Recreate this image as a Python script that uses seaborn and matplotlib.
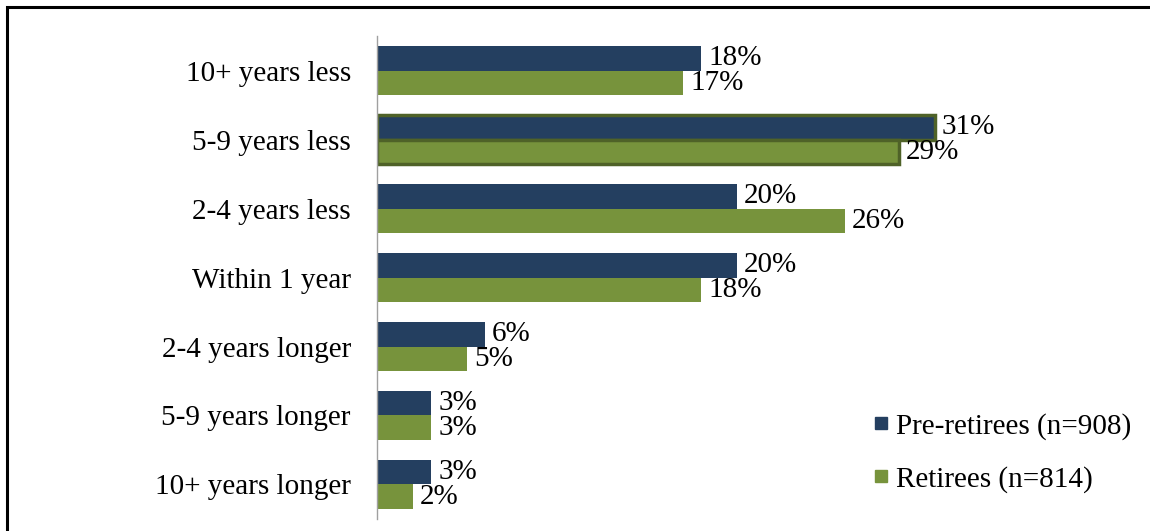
import matplotlib
matplotlib.use("Agg")
import matplotlib.pyplot as plt
import seaborn as sns
import pandas as pd
from matplotlib.patches import Rectangle
from matplotlib.lines import Line2D

categories = ["10+ years less", "5-9 years less", "2-4 years less", "Within 1 year",
              "2-4 years longer", "5-9 years longer", "10+ years longer"]
series_names = ["Pre-retirees (n=908)", "Retirees (n=814)"]
pre_retirees = [18, 31, 20, 20, 6, 3, 3]
retirees = [17, 29, 26, 18, 5, 3, 2]
colors = ["#243F60", "#77933C"]

df = pd.DataFrame({
    "category": categories * 2,
    "value": pre_retirees + retirees,
    "series": [series_names[0]] * len(categories) + [series_names[1]] * len(categories),
})

sns.set_style("white")
plt.rcParams["font.family"] = ["Liberation Serif", "DejaVu Serif"]
plt.rcParams["text.color"] = "black"
plt.rcParams["ytick.color"] = "black"

FS = 21

fig = plt.figure(figsize=(11.5, 5.31), dpi=100)
ax = fig.add_axes([0.328, 0.0226, 0.665, 0.9096])

sns.barplot(data=df, y="category", x="value", hue="series", order=categories,
            hue_order=series_names, palette=colors, orient="h", width=0.71,
            saturation=1, linewidth=0, ax=ax, legend=False)

ax.set_xlim(0, 42.5)
ax.set_ylim(6.5, -0.5)
ax.set_xlabel("")
ax.set_ylabel("")
ax.set_xticks([])
for s in ["top", "right", "bottom"]:
    ax.spines[s].set_visible(False)
ax.spines["left"].set_color("#A0A0A0")
ax.spines["left"].set_linewidth(1.0)
ax.tick_params(axis="y", length=0, pad=19, labelsize=FS, labelcolor="black")

# highlight group (5-9 years less) with dark green outline
for cont in ax.containers:
    for i, bar in enumerate(cont):
        if i == 1:
            bar.set_edgecolor("#4F6228")
            bar.set_linewidth(2.5)

for cont in ax.containers:
    ax.bar_label(cont, labels=[f"{int(v)}%" for v in cont.datavalues],
                 padding=5, fontsize=FS, color="black")

handles = [Line2D([0], [0], marker="s", color="none", markerfacecolor=c,
                  markeredgecolor=c, markersize=8) for c in colors]
ax.legend(handles, series_names, loc="lower right", bbox_to_anchor=(1.02, 0.0),
          frameon=False, fontsize=FS, handletextpad=0.0, labelspacing=0.9,
          handlelength=1.0, labelcolor="black")

# outer frame (top and left visible)
fig.add_artist(Rectangle((7 / 1150, -0.05), 1.2, 1 - 7 / 531 + 0.05,
                         transform=fig.transFigure, fill=False,
                         edgecolor="black", linewidth=2.2))

fig.savefig("out.png", dpi=100)
